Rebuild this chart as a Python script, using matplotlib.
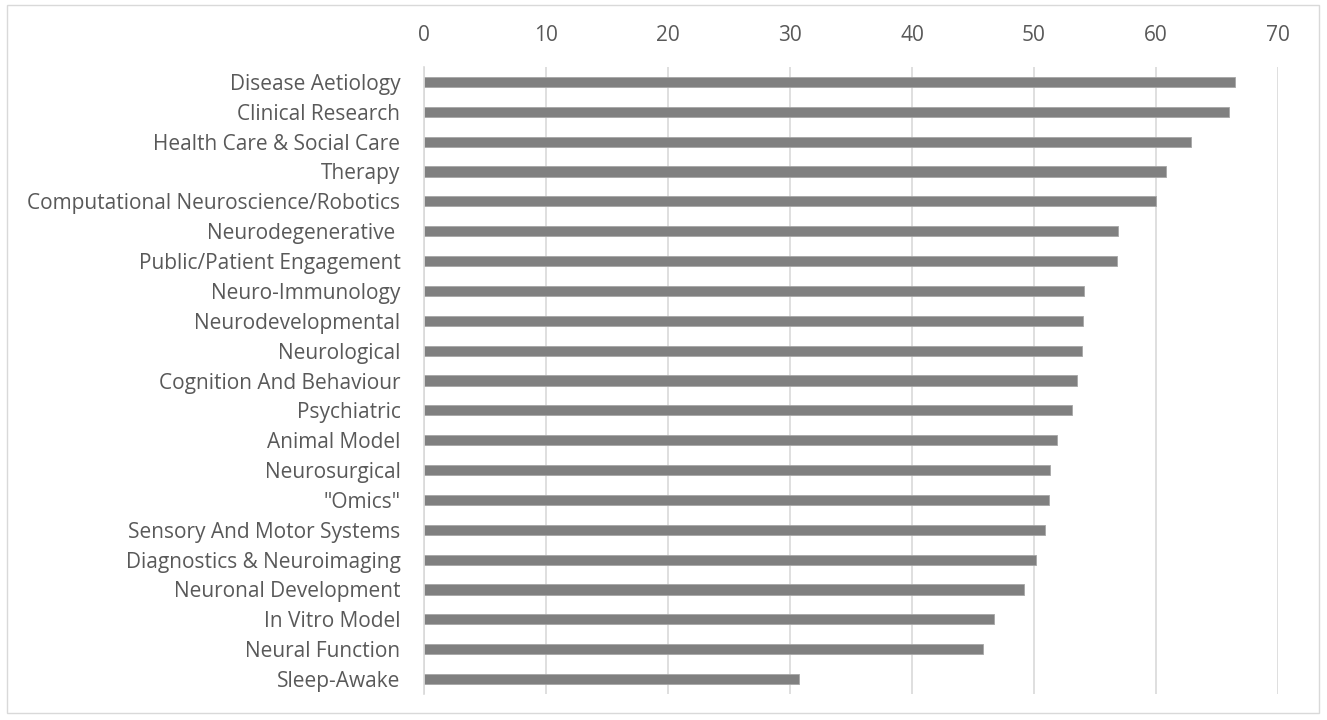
import matplotlib
matplotlib.use("Agg")
import matplotlib.pyplot as plt
from matplotlib.patches import Rectangle

categories = [
    "Disease Aetiology", "Clinical Research", "Health Care & Social Care", "Therapy",
    "Computational Neuroscience/Robotics", "Neurodegenerative ", "Public/Patient Engagement",
    "Neuro-Immunology", "Neurodevelopmental", "Neurological", "Cognition And Behaviour",
    "Psychiatric", "Animal Model", "Neurosurgical", '"Omics"', "Sensory And Motor Systems",
    "Diagnostics & Neuroimaging", "Neuronal Development", "In Vitro Model",
    "Neural Function", "Sleep-Awake",
]
values = [66.5, 66.0, 62.9, 60.8, 60.0, 56.9, 56.8, 54.1, 54.0, 53.9, 53.5,
          53.1, 51.85, 51.3, 51.2, 50.9, 50.15, 49.2, 46.75, 45.8, 30.7]
x_ticks = [0, 10, 20, 30, 40, 50, 60, 70]

plt.rcParams["font.family"] = ["Open Sans", "DejaVu Sans"]

W, H = 1327, 720
fig = plt.figure(figsize=(W / 100, H / 100), dpi=100)
fig.patches.append(Rectangle((7 / W, 7 / H), 1312 / W, 708 / H, transform=fig.transFigure,
                             fill=False, edgecolor="#d9d9d9", linewidth=1.0))

ax = fig.add_axes([424 / W, 1 - 694 / H, (1278 - 424) / W, (694 - 67) / H])
ypos = list(range(len(categories)))
ax.barh(ypos, values, height=0.34, color="#808080", edgecolor="#a6a6a6", linewidth=0.6, zorder=3)

ax.set_xlim(0, 70)
ax.set_ylim(len(categories) - 0.5, -0.5)
ax.set_xticks(x_ticks)
ax.set_xticklabels([str(t) for t in x_ticks])
ax.set_yticks(ypos)
ax.set_yticklabels(categories)
ax.xaxis.tick_top()
ax.tick_params(axis="x", length=0, pad=15, labelsize=15, colors="#595959")
ax.tick_params(axis="y", length=0, pad=17, labelsize=15, colors="#595959")
ax.grid(axis="x", color="#d9d9d9", linewidth=1.2, zorder=0)
for side in ["top", "right", "bottom"]:
    ax.spines[side].set_visible(False)
ax.spines["left"].set_color("#d9d9d9")
ax.spines["left"].set_linewidth(1.2)
ax.spines["left"].set_zorder(4)

fig.savefig("out.png", dpi=100)
